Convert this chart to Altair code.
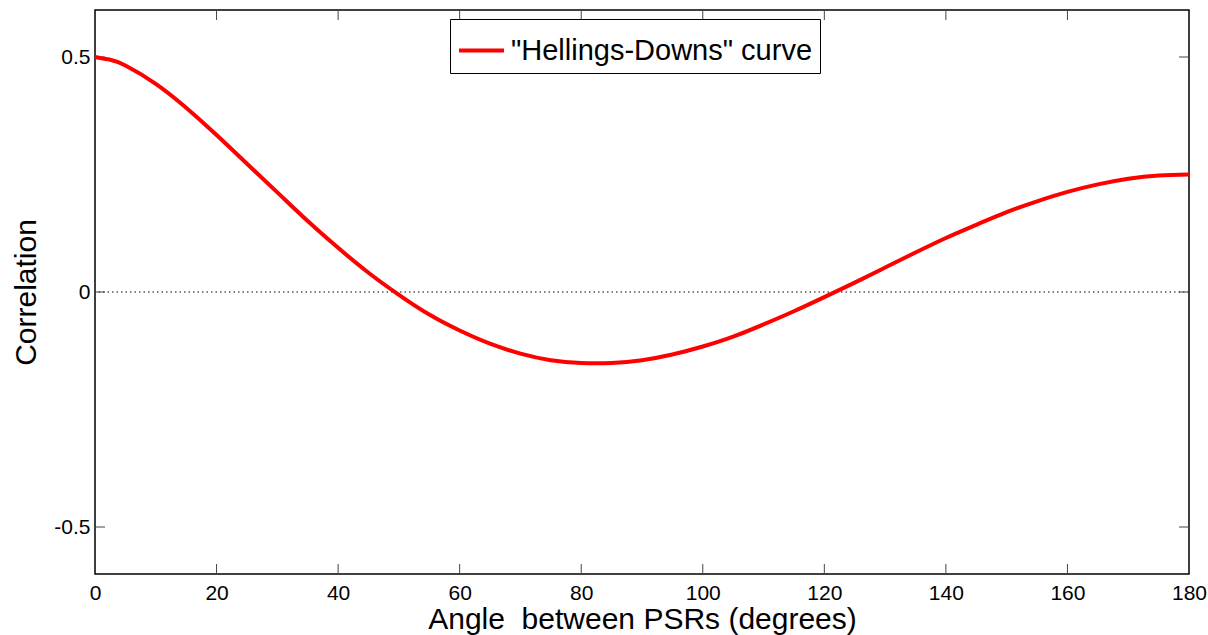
import altair as alt
import pandas as pd

# Values
angle = [0, 2.5, 5, 10, 15, 20, 25, 30, 35, 40, 45, 50, 55, 60, 65, 70, 75, 80, 85, 90,
         95, 100, 105, 110, 115, 120, 125, 130, 135, 140, 145, 150, 155, 160, 165, 170, 175, 180]
corr = [0.500, 0.494, 0.482, 0.443, 0.392, 0.334, 0.273, 0.212, 0.151, 0.094, 0.041, -0.006,
        -0.048, -0.082, -0.110, -0.131, -0.145, -0.151, -0.151, -0.145, -0.133, -0.116,
        -0.095, -0.069, -0.041, -0.011, 0.020, 0.052, 0.084, 0.115, 0.143, 0.170, 0.193,
        0.213, 0.229, 0.241, 0.248, 0.250]
series_name = '"Hellings-Downs" curve'
x_ticks = [0, 20, 40, 60, 80, 100, 120, 140, 160, 180]
y_ticks = [-0.5, 0, 0.5]
x_title = "Angle\u00a0 between PSRs (degrees)"
y_title = "Correlation"

W, H = 1094, 564
FONT = "Liberation Sans"

xs = alt.Scale(domain=[0, 180], nice=False, zero=False)
ys = alt.Scale(domain=[-0.6, 0.6], nice=False, zero=False)

x_axis = alt.Axis(values=x_ticks, title=x_title, ticks=False, domain=False, grid=False,
                  labelFontSize=21, labelPadding=8, labelFont=FONT, labelColor="black",
                  titleFont=FONT, titleFontSize=30, titleFontWeight="normal",
                  titleColor="black", titlePadding=1, labelFlush=False)
y_axis = alt.Axis(values=y_ticks, title=y_title, ticks=False, domain=False, grid=False,
                  labelExpr="toString(datum.value)",
                  labelFontSize=21, labelPadding=5, labelFont=FONT, labelColor="black",
                  titleFont=FONT, titleFontSize=30, titleFontWeight="normal",
                  titleColor="black", titlePadding=12, labelFlush=False)

df = pd.DataFrame({"angle": angle, "corr": corr, "series": series_name})

zero = alt.Chart(pd.DataFrame({"v": [0]})).mark_rule(
    color="black", strokeWidth=1, strokeDash=[1.5, 3]
).encode(y=alt.Y("v:Q", scale=ys, axis=y_axis))

line = alt.Chart(df).mark_line(strokeWidth=4, interpolate="natural").encode(
    x=alt.X("angle:Q", scale=xs, axis=x_axis),
    y=alt.Y("corr:Q", scale=ys, axis=y_axis),
    color=alt.Color("series:N", scale=alt.Scale(range=["#ff0000"]),
                    legend=alt.Legend(orient="none", legendX=355, legendY=9, title=None,
                                      strokeColor="black", fillColor="white", padding=7,
                                      symbolType="stroke", symbolSize=2025,
                                      symbolStrokeWidth=4, labelFontSize=29,
                                      labelFont=FONT, labelColor="black", labelOffset=5,
                                      labelLimit=1000, symbolStrokeColor="#ff0000")),
)

xdf = pd.DataFrame({"t": x_ticks[1:-1]})
ydf = pd.DataFrame({"t": y_ticks})
tick_color = "#444444"
bottom_ticks = alt.Chart(xdf).mark_rule(color=tick_color, strokeWidth=1).encode(
    x=alt.X("t:Q", scale=xs, axis=x_axis), y=alt.value(H - 10), y2=alt.value(H))
top_ticks = alt.Chart(xdf).mark_rule(color=tick_color, strokeWidth=1).encode(
    x=alt.X("t:Q", scale=xs, axis=x_axis), y=alt.value(0), y2=alt.value(10))
left_ticks = alt.Chart(ydf).mark_rule(color=tick_color, strokeWidth=1).encode(
    y=alt.Y("t:Q", scale=ys, axis=y_axis), x=alt.value(0), x2=alt.value(10))
right_ticks = alt.Chart(ydf).mark_rule(color=tick_color, strokeWidth=1).encode(
    y=alt.Y("t:Q", scale=ys, axis=y_axis), x=alt.value(W - 10), x2=alt.value(W))

chart = alt.layer(zero, bottom_ticks, top_ticks, left_ticks, right_ticks, line).properties(
    width=W, height=H,
    autosize=alt.AutoSizeParams(type="none"),
    padding={"left": 95, "top": 10, "right": 19, "bottom": 61},
    background="white",
).configure_view(stroke="black", strokeWidth=1.5)

chart.save("out.html", embed_options={"renderer": "svg", "actions": False})
